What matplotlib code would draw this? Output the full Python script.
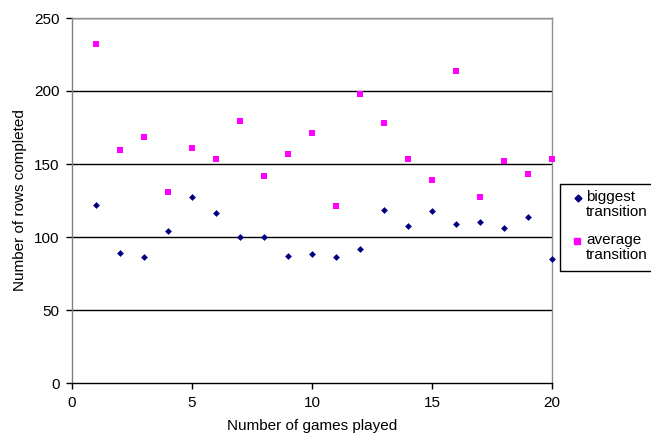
import matplotlib
matplotlib.use('Agg')
import matplotlib.pyplot as plt
from matplotlib.patches import Rectangle
from matplotlib.lines import Line2D

plt.rcParams['font.family'] = ['Liberation Sans', 'DejaVu Sans']

# data
games = list(range(1, 21))
biggest = [121.6, 89, 86, 103.8, 127.6, 116.2, 100.2, 99.7, 86.7, 88.6,
           86.5, 91.7, 118.5, 107.5, 118, 108.9, 110.5, 106.4, 113.9, 84.7]
average = [232.4, 159.3, 168.7, 130.5, 161, 153.4, 179.2, 141.5, 156.6, 171.5,
           121.2, 198.2, 178.3, 153.6, 139, 213.7, 127.1, 151.8, 143.2, 153.2]
legend_labels = ['biggest\ntransition', 'average\ntransition']
x_ticks = [0, 5, 10, 15, 20]
y_ticks = [0, 50, 100, 150, 200, 250]

W, H = 651, 440
fs = 11
fig = plt.figure(figsize=(W / 100, H / 100), dpi=100)
ax = fig.add_axes([72 / W, 1 - 383 / H, 480 / W, 365 / H])

# horizontal gridlines
for yv in y_ticks[1:]:
    ax.axhline(yv, color='black', lw=1.0, zorder=1)

ax.scatter(games, biggest, marker='D', s=12, color='#000080', zorder=3,
           clip_on=False, linewidths=0)
ax.scatter(games, average, marker='s', s=18, color='#FF00FF', zorder=3,
           clip_on=False, linewidths=0)

ax.set_xlim(0, 20)
ax.set_ylim(0, 250)
ax.set_xticks(x_ticks)
ax.set_yticks(y_ticks)
ax.tick_params(direction='out', length=4, width=1, labelsize=fs, pad=5)

for side in ['top', 'right']:
    ax.spines[side].set_color('#909090')
    ax.spines[side].set_linewidth(1.0)
ax.spines['left'].set_color('#808080')
ax.spines['left'].set_linewidth(1.0)
ax.spines['bottom'].set_color('black')
ax.spines['bottom'].set_linewidth(1.0)

ax.set_xlabel('Number of games played', fontsize=fs, labelpad=7)
ax.set_ylabel('Number of rows completed', fontsize=fs, labelpad=5)

# legend box drawn by hand so the marker sits beside the first line
fig.patches.append(Rectangle((560 / W, 1 - 271 / H), 100 / W, 87 / H,
                             transform=fig.transFigure, fill=False,
                             edgecolor='black', lw=1.0, clip_on=False))
fig.lines.append(Line2D([578 / W], [1 - 198 / H], marker='D', markersize=3.5,
                        color='#000080', transform=fig.transFigure, ls='none'))
fig.lines.append(Line2D([577 / W], [1 - 241 / H], marker='s', markersize=4.5,
                        color='#FF00FF', transform=fig.transFigure, ls='none'))
fig.text(586 / W, 1 - 190 / H, legend_labels[0], fontsize=fs, va='top',
         ha='left', linespacing=1.12)
fig.text(586 / W, 1 - 233 / H, legend_labels[1], fontsize=fs, va='top',
         ha='left', linespacing=1.12)

fig.savefig('out.png', dpi=100)
